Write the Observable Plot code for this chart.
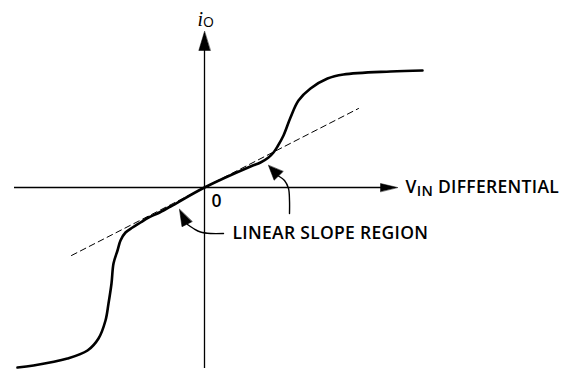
<!DOCTYPE html>
<html><head><meta charset="utf-8">
<script src="https://cdn.jsdelivr.net/npm/d3@7"></script>
<script src="https://cdn.jsdelivr.net/npm/@observablehq/plot@0.6"></script>
<style>html,body{margin:0;padding:0;background:#fff;} svg{display:block}</style>
</head><body><div id="chart"></div>
<script>
// Transfer curve: differential input voltage vs output current (arbitrary units, origin at 0)
const vin = [-187,-171,-137,-117,-106,-99,-96,-93,-91,-87,-84,-79,-72,-64,-56,-47,-34,0,46,56,64,69,73,79,86,94,106,123,139,186,218];
const io  = [-180,-178,-171,-163,-151,-133,-116,-96,-76,-63,-53,-45,-40,-35,-30,-26,-19,0,21,25,30,35,41,52,70,87,99,109,113,116,117];

// Linear-slope (dashed) reference line end points
const slopeX = [-133, 154];
const slopeY = [-68, 79];

// Axis extents
const xAxisExtent = [-190, 180];
const yAxisExtent = [-181, 140];

// Annotation arrow shafts
const leftShaftX = [19, 6, -4, -11, -17];
const leftShaftY = [-46, -46, -44.5, -41, -37];
const rightShaftX = [85, 85, 84, 80, 74];
const rightShaftY = [-26, -13, -1, 7, 11.5];

// Arrow head tips
const headX = [0, 193, -25, 64];
const headY = [156, 0, -22, 22];
const headRotate = [0, 90, -27, -44];
const headLength = [19, 17, 16.5, 14.5];
const headRadius = [5.7, 4, 5.6, 6.2];

// Labels
const labelText = ["LINEAR SLOPE REGION", "VIN DIFFERENTIAL", "0", "iO"];
const labelX = [28, 201, 7, -7];
const labelY = [-46, 0, -14, 167];

const pts = (X, Y) => X.map((x, i) => ({x, y: Y[i]}));
const curve = pts(vin, io);
const slope = pts(slopeX, slopeY);
const leftShaft = pts(leftShaftX, leftShaftY);
const rightShaft = pts(rightShaftX, rightShaftY);
const labels = labelText.map((t, i) => ({t, x: labelX[i], y: labelY[i]}));

const tri = {draw(ctx, l, r) { ctx.moveTo(0, -l); ctx.lineTo(-r, 0); ctx.lineTo(r, 0); ctx.closePath(); }};

const heads = headX.map((x, i) =>
  Plot.vector([{x, y: headY[i]}], {x: "x", y: "y", rotate: headRotate[i], length: headLength[i], r: headRadius[i],
    anchor: "end", shape: tri, fill: "#000", stroke: "#000", strokeWidth: 0.5}));

const svg = Plot.plot({
  width: 569, height: 369,
  marginTop: 0, marginRight: 0, marginBottom: 0, marginLeft: 0,
  x: {domain: [-204, 365], range: [0, 569], axis: null},
  y: {domain: [-182, 187], range: [369, 0], axis: null},
  style: {background: "#fff", color: "#000", fontFamily: "'Open Sans', sans-serif"},
  marks: [
    Plot.ruleY([0], {x1: xAxisExtent[0], x2: xAxisExtent[1], stroke: "#000", strokeWidth: 1.3}),
    Plot.ruleX([0], {y1: yAxisExtent[0], y2: yAxisExtent[1], stroke: "#000", strokeWidth: 1.3}),
    Plot.line(slope, {x: "x", y: "y", stroke: "#000", strokeWidth: 1, strokeDasharray: "6,4"}),
    Plot.line(curve, {x: "x", y: "y", curve: "catmull-rom", stroke: "#000", strokeWidth: 2.6}),
    Plot.line(leftShaft, {x: "x", y: "y", curve: "catmull-rom", stroke: "#000", strokeWidth: 1.4}),
    Plot.line(rightShaft, {x: "x", y: "y", curve: "catmull-rom", stroke: "#000", strokeWidth: 1.4}),
    ...heads,
    Plot.text(labels, {x: "x", y: "y", text: "t", textAnchor: "start", fontSize: 17.5, fontWeight: 600, fill: "#000"})
  ]
});

// rich text: subscripts and italic, slight letter spacing
d3.select(svg).selectAll("text").each(function() {
  const t = this.textContent;
  const s = d3.select(this);
  if (t === "LINEAR SLOPE REGION") {
    s.attr("letter-spacing", 0.3);
  } else if (t === "VIN DIFFERENTIAL") {
    s.text(null).attr("letter-spacing", 0.3);
    s.append("tspan").text("V");
    s.append("tspan").attr("font-size", 14.5).attr("dy", 3).text("IN");
    s.append("tspan").attr("dy", -3).text(" DIFFERENTIAL");
  } else if (t === "iO") {
    s.text(null);
    s.append("tspan").attr("font-family", "'Liberation Serif', serif").attr("font-style", "italic").attr("font-weight", 400).attr("font-size", 20).text("i");
    s.append("tspan").attr("font-size", 14).attr("font-weight", 400).attr("dy", 1).text("O");
  }
});

document.getElementById("chart").appendChild(svg);
</script></body></html>
